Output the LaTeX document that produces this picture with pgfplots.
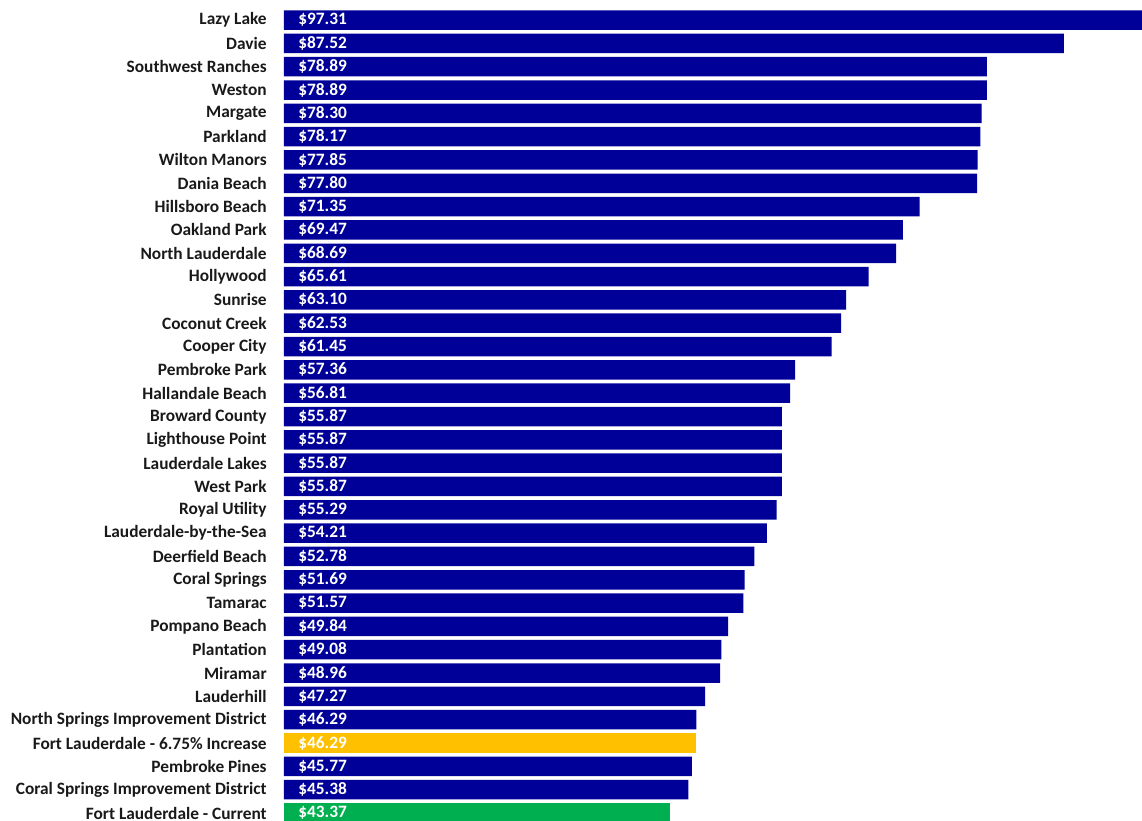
\documentclass[border=0pt]{standalone}
\usepackage{pgfplots}
\pgfplotsset{compat=1.18}
\usepackage{pgfplotstable}
\usepackage{fontspec}
\setmainfont{Carlito}

\definecolor{navybar}{RGB}{0,0,153}
\definecolor{ambar}{RGB}{255,192,0}
\definecolor{greenbar}{RGB}{0,176,80}

% y = position from bottom (0) to top (34), v = monthly bill
\pgfplotstableread{
y v
34 97.31
33 87.52
32 78.89
31 78.89
30 78.30
29 78.17
28 77.85
27 77.80
26 71.35
25 69.47
24 68.69
23 65.61
22 63.10
21 62.53
20 61.45
19 57.36
18 56.81
17 55.87
16 55.87
15 55.87
14 55.87
13 55.29
12 54.21
11 52.78
10 51.69
9 51.57
8 49.84
7 49.08
6 48.96
5 47.27
4 46.29
2 45.77
1 45.38
}\others
\pgfplotstableread{
y v
3 46.29
}\increase
\pgfplotstableread{
y v
0 43.37
}\current
\pgfplotstableread{
y v
34 97.31
33 87.52
32 78.89
31 78.89
30 78.30
29 78.17
28 77.85
27 77.80
26 71.35
25 69.47
24 68.69
23 65.61
22 63.10
21 62.53
20 61.45
19 57.36
18 56.81
17 55.87
16 55.87
15 55.87
14 55.87
13 55.29
12 54.21
11 52.78
10 51.69
9 51.57
8 49.84
7 49.08
6 48.96
5 47.27
4 46.29
3 46.29
2 45.77
1 45.38
0 43.37
}\allrows

\begin{document}
\begin{tikzpicture}[x=0.6pt,y=0.6pt]
\begin{axis}[
  scale only axis,
  width=514.8pt, height=492.6pt,
  xmin=0, xmax=96.3,
  ymin=-0.343, ymax=34.86,
  axis line style={draw=none},
  xtick=\empty,
  ytick={0,...,34},
  major tick length=0pt,
  /pgf/number format/assume math mode=true,
  yticklabels={
    Fort Lauderdale - Current,
    Coral Springs Improvement District,
    Pembroke Pines,
    Fort Lauderdale - 6.75\% Increase,
    North Springs Improvement District,
    Lauderhill,
    Miramar,
    Plantation,
    Pompano Beach,
    Tamarac,
    Coral Springs,
    Deerfield Beach,
    Lauderdale-by-the-Sea,
    Royal Utility,
    West Park,
    Lauderdale Lakes,
    Lighthouse Point,
    Broward County,
    Hallandale Beach,
    Pembroke Park,
    Cooper City,
    Coconut Creek,
    Sunrise,
    Hollywood,
    North Lauderdale,
    Oakland Park,
    Hillsboro Beach,
    Dania Beach,
    Wilton Manors,
    Parkland,
    Margate,
    Weston,
    Southwest Ranches,
    Davie,
    Lazy Lake},
  yticklabel style={font=\fontsize{10.4}{11}\selectfont\bfseries, inner sep=0pt, xshift=-10.2pt, text=black!90},
  bar width=0.836,
]
\addplot[xbar, bar shift=0pt, fill=navybar, draw=none] table[x=v, y=y] {\others};
\addplot[xbar, bar shift=0pt, fill=ambar, draw=none] table[x=v, y=y] {\increase};
\addplot[xbar, bar shift=0pt, fill=greenbar, draw=none] table[x=v, y=y] {\current};
\addplot[draw=none, mark=none,
  nodes near coords={\$\pgfmathprintnumber[fixed,fixed zerofill,precision=2,assume math mode=true]{\pgfplotspointmeta}},
  point meta=explicit,
  every node near coord/.style={anchor=west, inner sep=0pt, xshift=8.4pt, text=white, font=\fontsize{10.4}{11}\selectfont\bfseries},
] table[x expr=0, y=y, meta=v] {\allrows};
\end{axis}
\pgfresetboundingbox
\useasboundingbox (-284,0) rectangle (858,821);
\end{tikzpicture}
\end{document}
